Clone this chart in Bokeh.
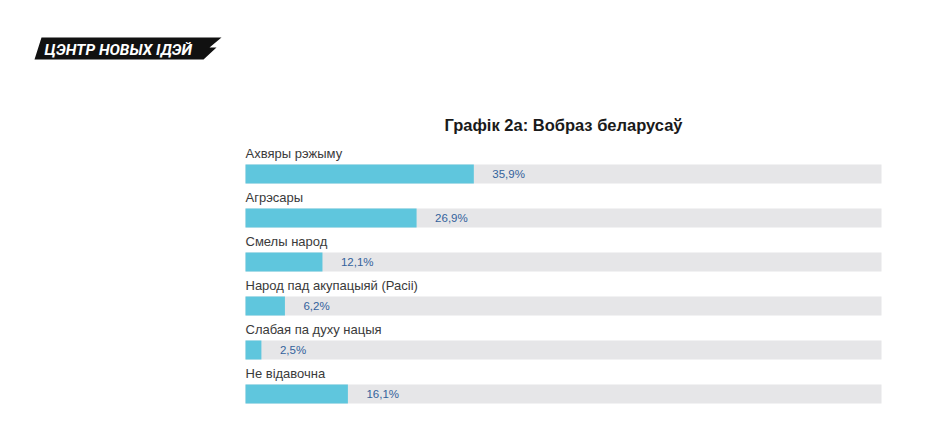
from bokeh.plotting import figure
from bokeh.models import Range1d, ColumnDataSource
from bokeh.core.properties import value
from bokeh.embed import file_html
from bokeh.resources import INLINE

categories = ["Ахвяры рэжыму", "Агрэсары", "Смелы народ",
              "Народ пад акупацыяй (Расіі)", "Слабая па духу нацыя", "Не відавочна"]
values = [35.9, 26.9, 12.1, 6.2, 2.5, 16.1]
title_text = "Графік 2а: Вобраз беларусаў"
logo_text = "ЦЭНТР НОВЫХ ІДЭЙ"

W, H = 945, 443
KX = 6.36          # px per percent
KY = 44.0          # px per row
X0 = 245.0         # px of 0%
Y0 = 173.5         # px of first row centre

def px_x(px):
    return (px - X0) / KX

def px_y(py):
    return (py - Y0) / KY

p = figure(width=W, height=H, output_backend="svg", toolbar_location=None,
           x_range=Range1d(px_x(0), px_x(W)),
           y_range=Range1d(px_y(H), px_y(0)),
           min_border=0, min_border_left=0, min_border_right=0,
           min_border_top=0, min_border_bottom=0)
p.axis.visible = False
p.xaxis.visible = False
p.yaxis.visible = False
p.grid.visible = False
p.outline_line_color = None
p.background_fill_color = "white"
p.border_fill_color = "white"

idx = list(range(len(categories)))
src = ColumnDataSource(dict(
    y=idx,
    val=values,
    full=[100] * len(values),
    cat=categories,
    label_y=[i - 20.5 / KY for i in idx],
    pct=[f"{v:.1f}".replace(".", ",") + "%" for v in values],
    pct_x=[v + 18.5 / KX for v in values],
))

bar_h = 19 / KY
p.hbar(y="y", left=0, right="full", height=bar_h, source=src,
       fill_color="#e6e6e8", line_color=None)
p.hbar(y="y", left=0, right="val", height=bar_h, source=src,
       fill_color="#5fc6dd", line_color=None)

p.text(x=0, y="label_y", text="cat", source=src,
       text_font=value("Liberation Sans"), text_font_size="13px",
       text_color="#3a3a3a", text_baseline="alphabetic", text_align="left")

p.text(x="pct_x", y="y", text="pct", source=src,
       text_font=value("Liberation Sans"), text_font_size="11.5px",
       text_color="#33629c", text_baseline="middle", text_align="left")

# title
p.text(x=[50], y=[px_y(124)], text=[title_text],
       text_font=value("Liberation Sans"), text_font_size="16.5px",
       text_font_style="bold", text_color="#1a1a1a",
       text_baseline="alphabetic", text_align="center")

# logo
lx = [41, 221, 209, 216, 203, 34]
ly = [37, 37, 47, 47, 59, 59]
p.patch(x=[px_x(v) for v in lx], y=[px_y(v) for v in ly],
        fill_color="#111111", line_color=None)
p.text(x=[px_x(44)], y=[px_y(49.5)], text=[logo_text],
       text_font=value("Roboto"), text_font_size="15.5px",
       text_font_style="bold italic", text_color="white",
       text_baseline="alphabetic", text_align="left")

open("out.html", "w").write(file_html(p, INLINE))
